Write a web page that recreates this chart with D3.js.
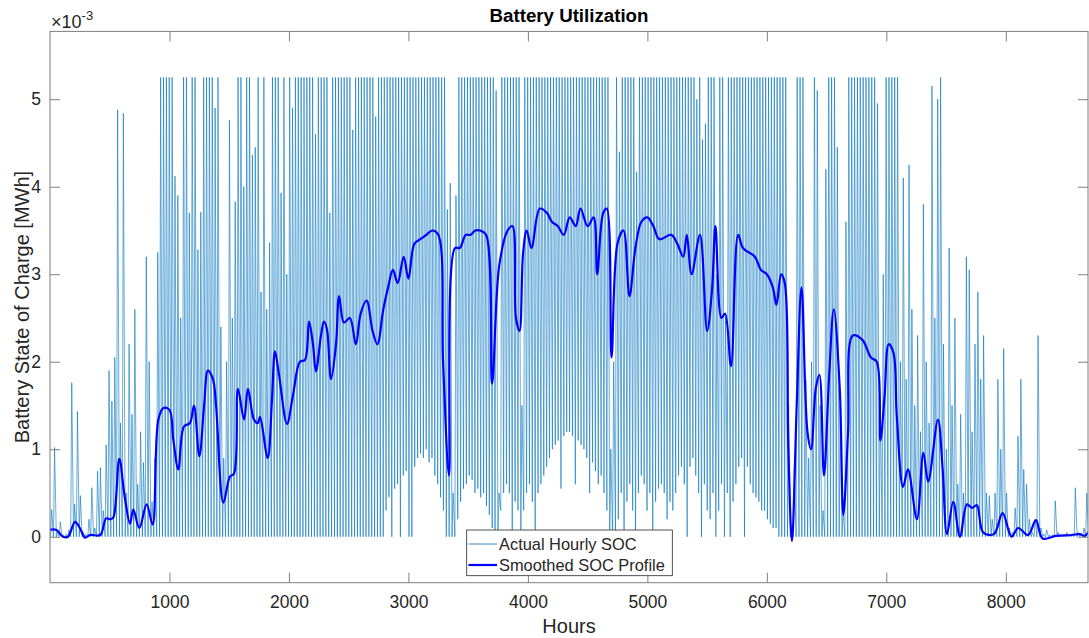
<!DOCTYPE html>
<html>
<head>
<meta charset="utf-8">
<script src="https://cdn.jsdelivr.net/npm/d3@7"></script>
<style>
  body { margin: 0; background: #fff; }
  svg { display: block; }
  text { font-family: "Liberation Sans", Arial, Helvetica, sans-serif; fill: #262626; }
</style>
</head>
<body>
<svg id="chart" width="1089" height="638"></svg>
<script>
// Battery state of charge, in units of 1e-3 MWh.
// Daily maximum SOC, one entry per day of the year (day 0 .. 364).
const dailyPeak = [
  0.31, 1.02, 0.05, 0.17, 0.02, 0.03, 0.08, 1.76, 0.37, 1.43,
  0.47, 0.05, 0.03, 0.2, 0.56, 0.1, 0.75, 0.79, 0.3, 1.05,
  1.9, 1.55, 2.05, 4.88, 1.3, 4.84, 0.5, 2.2, 1.4, 2.6,
  0.6, 1.2, 0.85, 3.2, 2.0, 0.4, 0.9, 3.25, 5.25, 5.25,
  5.25, 5.25, 5.25, 4.12, 3.9, 2.5, 5.25, 5.25, 3.7, 5.25,
  5.25, 3.28, 3.71, 5.25, 5.25, 5.25, 5.25, 4.9, 5.25, 2.4,
  0.9, 2.0, 4.76, 2.5, 3.83, 5.25, 5.25, 4.0, 5.25, 5.25,
  4.36, 4.45, 5.25, 2.8, 5.25, 2.6, 3.36, 5.25, 5.25, 5.25,
  3.93, 5.25, 3.0, 5.25, 4.9, 5.25, 5.25, 5.25, 5.25, 5.25,
  5.25, 5.25, 4.6, 5.25, 5.25, 5.25, 5.25, 3.7, 5.25, 5.25,
  5.25, 5.25, 5.25, 5.25, 5.25, 4.65, 5.25, 5.25, 5.25, 5.25,
  5.25, 5.25, 5.25, 4.8, 5.25, 5.25, 5.25, 5.25, 5.25, 5.25,
  5.25, 5.25, 5.25, 5.25, 5.25, 5.25, 5.25, 5.25, 5.25, 5.25,
  5.25, 5.25, 5.25, 5.25, 5.25, 5.25, 5.25, 5.25, 3.74, 4.04,
  0.5, 3.9, 5.25, 5.25, 5.25, 5.25, 5.25, 5.25, 5.25, 5.25,
  5.25, 5.25, 5.25, 5.25, 5.25, 5.1, 0.5, 5.25, 5.25, 5.25,
  5.25, 5.25, 5.25, 5.25, 1.5, 5.25, 5.25, 5.25, 5.25, 5.25,
  5.25, 5.25, 5.25, 5.25, 5.25, 5.25, 5.25, 5.25, 5.25, 5.25,
  5.25, 5.25, 5.25, 5.25, 5.25, 5.25, 5.25, 5.25, 5.25, 5.25,
  5.25, 5.25, 5.25, 5.25, 5.25, 1.0, 2.0, 5.25, 4.4, 5.25,
  5.25, 5.25, 5.25, 5.25, 4.17, 5.25, 5.25, 5.25, 5.25, 5.25,
  5.25, 5.25, 5.25, 5.25, 5.25, 5.25, 5.25, 5.25, 5.25, 5.25,
  5.25, 5.25, 5.25, 5.25, 5.25, 5.0, 5.25, 4.54, 4.72, 5.25,
  5.25, 5.25, 3.0, 5.25, 5.25, 2.5, 5.25, 5.25, 5.25, 5.25,
  5.25, 5.25, 5.25, 5.25, 5.25, 5.25, 5.25, 5.25, 5.25, 5.25,
  5.25, 5.25, 5.25, 5.25, 5.25, 5.25, 5.25, 1.5, 0.1, 0.8,
  5.25, 5.25, 5.25, 1.8, 0.9, 2.0, 5.25, 5.1, 1.5, 0.3,
  4.2, 5.25, 5.25, 5.25, 4.45, 1.5, 0.3, 3.6, 5.25, 5.25,
  5.25, 5.25, 5.25, 5.25, 5.25, 5.25, 5.25, 5.25, 4.95, 1.5,
  3.0, 5.25, 5.25, 5.25, 5.25, 5.25, 2.0, 4.1, 1.8, 4.25,
  2.6, 1.5, 2.3, 1.2, 3.8, 2.0, 1.3, 5.15, 2.5, 5.0,
  5.25, 2.2, 1.0, 3.3, 1.5, 2.5, 0.6, 1.4, 0.5, 3.2,
  3.05, 1.2, 2.2, 2.8, 1.8, 2.3, 0.5, 0.47, 0.2, 0.5,
  1.8, 1.0, 2.15, 0.5, 0.1, 0.05, 0.33, 1.15, 1.8, 0.77,
  0.6, 0.2, 0.05, 0.2, 2.3, 0.1, 0.03, 0.08, 0.02, 0.02,
  0.41, 0.05, 0.02, 0.03, 0.05, 0.02, 0.02, 0.56, 0.05, 0.03,
  0.1, 0.5, 0.8, 0.1, 0.1
];

// Daily minimum SOC, one entry per day of the year.
const dailyLow = [
  // days 0-99
  0, 0, 0, 0, 0, 0, 0, 0, 0, 0,   0, 0, 0, 0, 0, 0, 0, 0, 0, 0,
  0, 0, 0, 0, 0, 0, 0, 0, 0, 0,   0, 0, 0, 0, 0, 0, 0, 0, 0, 0,
  0, 0, 0, 0, 0, 0, 0, 0, 0, 0,   0, 0, 0, 0, 0, 0, 0, 0, 0, 0,
  0, 0, 0, 0, 0, 0, 0, 0, 0, 0,   0, 0, 0, 0, 0, 0, 0, 0, 0, 0,
  0, 0, 0, 0, 0, 0, 0, 0, 0, 0,   0, 0, 0, 0, 0, 0, 0, 0, 0, 0,
  // days 100-259
  0, 0, 0, 0, 0, 0, 0, 0, 0, 0,
  0, 0, 0, 0, 0, 0, 0, 0.3, 0.45, 0,
  0.55, 0.6, 0, 0.7, 0.75, 0, 0, 0.8, 0.9, 0.95,
  0.9, 1.0, 0.85, 0.9, 0.7, 0.6, 0.45, 0.3, 0, 0,
  0, 0, 0.2, 0.4, 0.55, 0.6, 0.7, 0.65, 0.5, 0.55,
  0.45, 0.5, 0.35, 0.25, 0.1, 0, 0, 0.3, 0.5, 0.6,
  0.5, 0, 0.4, 0.3, 0, 0.3, 0.5, 0.6, 0.4, 0,
  0.5, 0.6, 0.7, 0.8, 0.9, 1.0, 1.05, 1.1, 0.55, 1.15,
  1.2, 1.2, 1.15, 0.6, 1.1, 1.05, 1.0, 0.9, 0.5, 0.85,
  0.75, 0.6, 0.7, 0.5, 0.3, 0, 0, 0, 0.2, 0.5,
  0, 0.4, 0.6, 0.3, 0, 0.5, 0.7, 0.6, 0.3, 0.5,
  0, 0.4, 0.55, 0.6, 0.5, 0.2, 0.4, 0.3, 0.5, 0.7,
  0.8, 0.6, 0, 0.8, 0.9, 0.7, 0.5, 0, 0.6, 0.3,
  0.2, 0.5, 0, 0.3, 0.6, 0, 0.5, 0, 0.4, 0.6,
  0.8, 0.9, 0, 0.8, 0.6, 0.5, 0.45, 0.4, 0.3, 0.3,
  0.2, 0.15, 0.1, 0.1, 0, 0, 0, 0, 0, 0,
  // days 260-364
  0, 0, 0, 0, 0, 0, 0, 0, 0, 0,   0, 0, 0, 0, 0, 0, 0, 0, 0, 0,
  0, 0, 0, 0, 0, 0, 0, 0, 0, 0,   0, 0, 0, 0, 0, 0, 0, 0, 0, 0,
  0, 0, 0, 0, 0, 0, 0, 0, 0, 0,   0, 0, 0, 0, 0, 0, 0, 0, 0, 0,
  0, 0, 0, 0, 0, 0, 0, 0, 0, 0,   0, 0, 0, 0, 0, 0, 0, 0, 0, 0,
  0, 0, 0, 0, 0, 0, 0, 0, 0, 0,   0, 0, 0, 0, 0, 0, 0, 0, 0, 0,
  0, 0, 0, 0, 0
];

// Smoothed SOC profile: hour of year and value (1e-3 MWh).
const smoothHours = [
  0, 50, 110, 150, 210, 250, 293, 335, 420, 470, 505, 530, 580, 628, 670, 697, 748, 809, 859,
  907, 950, 1000, 1032, 1074, 1121, 1171, 1205, 1250, 1290, 1322, 1364, 1390, 1451, 1507, 1540,
  1573, 1624, 1657, 1707, 1740, 1758, 1822, 1858, 1883, 1917, 1984, 2034, 2092, 2134, 2168, 2201,
  2226, 2268, 2293, 2318, 2352, 2394, 2420, 2460, 2510, 2560, 2600, 2650, 2700, 2740, 2790, 2830,
  2870, 2910, 2960, 3000, 3050, 3100, 3150, 3200, 3250, 3290, 3340, 3390, 3430, 3480, 3520, 3560,
  3600, 3650, 3700, 3760, 3830, 3870, 3900, 3930, 3960, 3990, 4030, 4100, 4160, 4200, 4250, 4300,
  4350, 4400, 4440, 4500, 4550, 4580, 4630, 4660, 4700, 4750, 4800, 4850, 4900, 4950, 5000, 5050,
  5100, 5200, 5250, 5300, 5330, 5370, 5440, 5500, 5540, 5570, 5620, 5650, 5700, 5760, 5800, 5900,
  5950, 6000, 6050, 6080, 6120, 6150, 6180, 6210, 6250, 6290, 6340, 6370, 6410, 6440, 6478, 6520,
  6560, 6610, 6640, 6680, 6720, 6800, 6870, 6920, 6950, 6985, 7020, 7060, 7087, 7140, 7181, 7256,
  7310, 7350, 7432, 7470, 7508, 7560, 7616, 7675, 7717, 7758, 7810, 7900, 7973, 8048, 8103, 8187,
  8252, 8308, 8420, 8550, 8620, 8660, 8700, 8760
];
const smoothSOC = [
  0.08, 0.08, 0.0, 0.0, 0.17, 0.1, -0.01, 0.02, 0.02, 0.21, 0.2, 0.22, 0.89, 0.43, 0.15, 0.31, 0.1, 0.37, 0.14,
  1.34, 1.47, 1.45, 1.11, 0.77, 1.26, 1.3, 1.5, 0.92, 1.5, 1.9, 1.8, 1.5, 0.39, 0.69, 0.72,
  1.69, 1.34, 1.69, 1.34, 1.3, 1.37, 0.9, 1.57, 2.12, 1.85, 1.29, 1.62, 2.0, 2.02, 2.46, 2.2,
  1.89, 2.3, 2.46, 2.37, 1.8, 2.2, 2.75, 2.45, 2.5, 2.2, 2.55, 2.7, 2.35, 2.2, 2.6, 2.85,
  3.05, 2.9, 3.2, 2.95, 3.35, 3.4, 3.45, 3.5, 3.45, 2.0, 0.7, 3.3, 3.3, 3.45, 3.45, 3.5,
  3.5, 3.45, 1.75, 3.1, 3.5, 3.55, 2.5, 2.35, 3.25, 3.5, 3.3, 3.75, 3.7, 3.6, 3.55, 3.45,
  3.65, 3.55, 3.75, 3.55, 3.65, 3.0, 3.7, 3.75, 2.05, 3.35, 3.5, 2.75, 3.3, 3.6, 3.65, 3.55,
  3.4, 3.45, 3.35, 3.2, 3.45, 3.0, 3.45, 2.35, 2.8, 3.55, 2.5, 2.55, 1.95, 3.45, 3.3, 3.2,
  3.05, 3.0, 2.85, 2.65, 3.0, 2.9, 1.0, -0.05, 1.5, 2.85, 1.2, 1.0, 1.7, 1.85, 0.7, 1.8,
  2.6, 1.7, 0.25, 1.2, 2.3, 2.25, 2.05, 2.0, 1.1, 1.6, 2.2, 2.1, 1.4, 0.57, 0.77, 0.2,
  0.96, 0.63, 1.34, 0.8, 0.03, 0.4, 0.0, 0.37, 0.33, 0.36, 0.05, 0.03, 0.27, 0.0, 0.1, 0.02,
  0.19, -0.02, 0.01, 0.02, 0.03, 0.01, 0.06, 0.1
];

const xTicks = [1000, 2000, 3000, 4000, 5000, 6000, 7000, 8000];
const yTicks = [0, 1, 2, 3, 4, 5];

const svg = d3.select("#chart");
const plotLeft = 50, plotRight = 1088, plotTop = 31.4, plotBottom = 582.7;

const x = d3.scaleLinear().domain([0, 8688]).range([plotLeft, plotRight]);
const y = d3.scaleLinear().domain([-0.525, 5.775]).range([plotBottom, plotTop]);

svg.append("defs").append("clipPath").attr("id", "plotClip")
  .append("rect").attr("x", plotLeft).attr("y", plotTop)
  .attr("width", plotRight - plotLeft).attr("height", plotBottom - plotTop);

// Hourly trace: each day contributes its low point (early morning) and its peak (afternoon).
const hourly = [];
dailyPeak.forEach((p, d) => {
  hourly.push({ h: d * 24 + 5, v: dailyLow[d] ?? 0 });
  hourly.push({ h: d * 24 + 14, v: p });
});

const plot = svg.append("g").attr("clip-path", "url(#plotClip)");

plot.append("path")
  .datum(hourly)
  .attr("fill", "none")
  .attr("stroke", "#0072BD")
  .attr("stroke-width", 0.6)
  .attr("d", d3.line().x(d => x(d.h)).y(d => y(d.v)));

const smooth = smoothHours.map((h, i) => ({ h, v: smoothSOC[i] }));
plot.append("path")
  .datum(smooth)
  .attr("fill", "none")
  .attr("stroke", "#0000ff")
  .attr("stroke-width", 2.2)
  .attr("stroke-linejoin", "round")
  .attr("d", d3.line().x(d => x(d.h)).y(d => y(d.v)).curve(d3.curveCatmullRom.alpha(0.5)));

// Axes box with inward ticks on all four sides
const axisColor = "#7f7f7f";
function styleAxis(g, hideLabels) {
  g.select(".domain").remove();
  g.selectAll(".tick line").attr("stroke", axisColor).attr("stroke-width", 1);
  g.selectAll(".tick text")
    .attr("fill", "#262626")
    .style("font-family", '"Liberation Sans", Arial, sans-serif')
    .style("font-size", "17.5px");
  if (hideLabels) g.selectAll(".tick text").remove();
}

svg.append("g").attr("transform", `translate(0,${plotBottom})`)
  .call(d3.axisBottom(x).tickValues(xTicks).tickSizeInner(-10).tickSizeOuter(0).tickPadding(13).tickFormat(d3.format("d")))
  .call(g => styleAxis(g, false));
svg.append("g").attr("transform", `translate(0,${plotTop})`)
  .call(d3.axisTop(x).tickValues(xTicks).tickSizeInner(-10).tickSizeOuter(0))
  .call(g => styleAxis(g, true));
svg.append("g").attr("transform", `translate(${plotLeft},0)`)
  .call(d3.axisLeft(y).tickValues(yTicks).tickSizeInner(-10).tickSizeOuter(0).tickPadding(9).tickFormat(d3.format("d")))
  .call(g => styleAxis(g, false));
svg.append("g").attr("transform", `translate(${plotRight},0)`)
  .call(d3.axisRight(y).tickValues(yTicks).tickSizeInner(-10).tickSizeOuter(0))
  .call(g => styleAxis(g, true));

svg.append("rect")
  .attr("x", plotLeft).attr("y", plotTop)
  .attr("width", plotRight - plotLeft).attr("height", plotBottom - plotTop)
  .attr("fill", "none").attr("stroke", axisColor).attr("stroke-width", 1);

// Exponent marker
const expo = svg.append("text").attr("x", 51).attr("y", 27.5).style("font-size", "18px");
expo.append("tspan").text("×10");
expo.append("tspan").attr("dy", -7.5).style("font-size", "13px").text("-3");

// Title and axis labels
svg.append("text")
  .attr("x", (plotLeft + plotRight) / 2).attr("y", 21.7)
  .attr("text-anchor", "middle")
  .style("font-size", "18.7px").style("font-weight", "bold").style("fill", "#000")
  .text("Battery Utilization");

svg.append("text")
  .attr("x", (plotLeft + plotRight) / 2).attr("y", 633)
  .attr("text-anchor", "middle")
  .style("font-size", "20px")
  .text("Hours");

svg.append("text")
  .attr("transform", `translate(28.5,${(plotTop + plotBottom) / 2}) rotate(-90)`)
  .attr("text-anchor", "middle")
  .style("font-size", "20px")
  .text("Battery State of Charge [MWh]");

// Legend
const lg = svg.append("g");
lg.append("rect")
  .attr("x", 466.7).attr("y", 530).attr("width", 205.6).attr("height", 45.7)
  .attr("fill", "#fff").attr("stroke", "#262626").attr("stroke-width", 0.8);
const legendItems = [
  { label: "Actual Hourly SOC", color: "#0072BD", width: 0.8, y: 544 },
  { label: "Smoothed SOC Profile", color: "#0000ff", width: 2.2, y: 565 }
];
legendItems.forEach(it => {
  lg.append("line").attr("x1", 468.5).attr("x2", 497).attr("y1", it.y).attr("y2", it.y)
    .attr("stroke", it.color).attr("stroke-width", it.width);
  lg.append("text").attr("x", 499).attr("y", it.y + 5.8)
    .style("font-size", "16.4px").text(it.label);
});
</script>
</body>
</html>
